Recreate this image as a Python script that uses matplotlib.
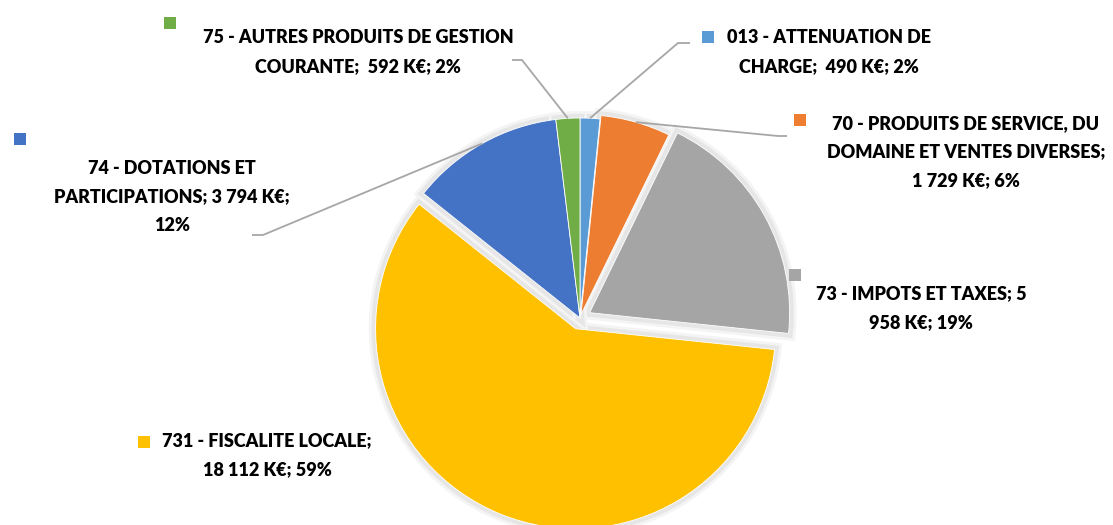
import matplotlib
matplotlib.use("Agg")
import matplotlib.pyplot as plt
import matplotlib.patheffects as pe
import numpy as np

# slices, clockwise from the top
categories = ["013", "70", "73", "731", "74", "75"]
values = [490, 1729, 5958, 18112, 3794, 592]
labels = [
    "013 - ATTENUATION DE\nCHARGE;  490 K€; 2%",
    "70 - PRODUITS DE SERVICE, DU\nDOMAINE ET VENTES DIVERSES;\n1 729 K€; 6%",
    "73 - IMPOTS ET TAXES; 5\n958 K€; 19%",
    "731 - FISCALITE LOCALE;\n18 112 K€; 59%",
    "74 - DOTATIONS ET\nPARTICIPATIONS; 3 794 K€;\n12%",
    "75 - AUTRES PRODUITS DE GESTION\nCOURANTE;  592 K€; 2%",
]

colors = ["#5B9BD5", "#ED7D31", "#A5A5A5", "#FFC000", "#4472C4", "#70AD47"]
explode = [0, 0.018, 0.055, 0.058, 0, 0]

W, H = 1113, 525
CX, CY, R = 580, 318, 200


def px(x, y):
    """pixel position (y down) -> data units of the pie (radius 1)"""
    return (x - CX) / R, (CY - y) / R


# label block centre, legend key square
label_pos = {
    "013": (829, 52), "70": (966, 152), "73": (921, 308),
    "731": (267, 455), "74": (172, 197), "75": (358, 52),
}
key_pos = {
    "013": (708, 37), "70": (800, 120), "73": (795, 275),
    "731": (144, 442), "74": (20, 139), "75": (170, 23),
}
# leader lines: elbow, end near the label
leaders = {
    "013": ((678, 43), (690, 43)),
    "70": ((778, 136), (787, 136)),
    "74": ((263, 235), (252, 235)),
    "75": ((522, 60), (512, 60)),
}

fig = plt.figure(figsize=(W / 100, H / 100), dpi=100)
ax = fig.add_axes([0, 0, 1, 1])

# soft glow under the slices
glow, _ = ax.pie(values, startangle=90, counterclock=False, explode=explode,
                 colors=["#e6e6e6"] * len(values),
                 wedgeprops=dict(edgecolor="#e6e6e6", linewidth=6))
for w in glow:
    w.set_path_effects([pe.Stroke(linewidth=10, foreground="#f4f4f4"),
                        pe.Normal()])

wedges, _ = ax.pie(values, startangle=90, counterclock=False, explode=explode,
                   colors=colors,
                   wedgeprops=dict(edgecolor="white", linewidth=0.6))

for i, cat in enumerate(categories):
    w = wedges[i]
    if cat in leaders:
        mid = np.deg2rad((w.theta1 + w.theta2) / 2)
        x0 = w.center[0] + w.r * np.cos(mid)
        y0 = w.center[1] + w.r * np.sin(mid)
        (ex, ey), (lx, ly) = leaders[cat]
        e = px(ex, ey)
        l = px(lx, ly)
        ax.plot([x0, e[0], l[0]], [y0, e[1], l[1]], color="#a6a6a6",
                linewidth=1.3, solid_capstyle="butt")

    kx, ky = px(*key_pos[cat])
    ax.scatter([kx], [ky], marker="s", s=72, color=colors[i], linewidths=0,
               zorder=5)

    tx, ty = px(*label_pos[cat])
    ax.text(tx, ty, labels[i], ha="center", va="center", ma="center",
            fontsize=13, fontweight="heavy", family="Lato", color="black",
            linespacing=1.85)

ax.set_xlim(-CX / R, (W - CX) / R)
ax.set_ylim((CY - H) / R, CY / R)
ax.set_aspect("auto")
ax.axis("off")

fig.savefig("out.png", dpi=100, facecolor="white")
